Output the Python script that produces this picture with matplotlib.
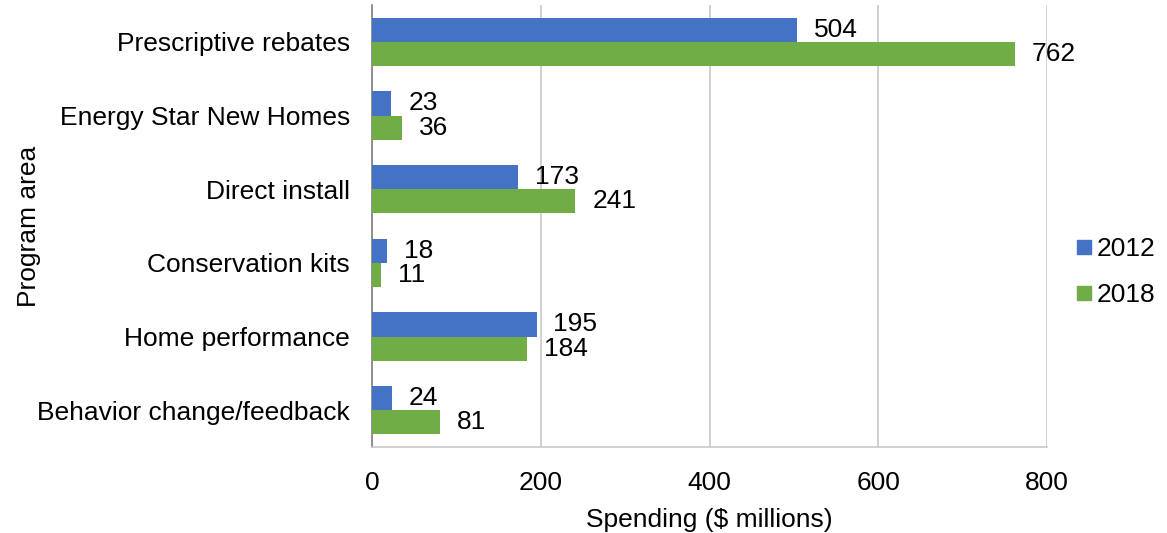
import matplotlib
matplotlib.use("Agg")
import matplotlib.pyplot as plt
import numpy as np
from matplotlib.lines import Line2D

categories = ["Prescriptive rebates", "Energy Star New Homes", "Direct install",
              "Conservation kits", "Home performance", "Behavior change/feedback"]
series_2012 = [504, 23, 173, 18, 195, 24]
series_2018 = [762, 36, 241, 11, 184, 81]
series_names = ["2012", "2018"]
xticks = [0, 200, 400, 600, 800]

plt.rcParams['font.family'] = ['Liberation Sans', 'DejaVu Sans']
FS = 19
blue = "#4472C4"
green = "#70AD47"

fig = plt.figure(figsize=(11.67, 5.33), dpi=100)
ax = fig.add_axes([372/1167, 1-447/533, (1047-372)/1167, (447-5)/533])

y = np.arange(len(categories))
h = 0.33
ax.barh(y - h/2, series_2012, height=h, color=blue, zorder=3)
ax.barh(y + h/2, series_2018, height=h, color=green, zorder=3)

for yi, v in zip(y, series_2012):
    ax.text(v + 20, yi - h/2, str(v), va='center', ha='left', fontsize=FS)
for yi, v in zip(y, series_2018):
    ax.text(v + 20, yi + h/2, str(v), va='center', ha='left', fontsize=FS)

ax.set_ylim(len(categories) - 0.5, -0.5)
ax.set_xlim(0, 800)
ax.set_yticks(y)
ax.set_yticklabels(categories, fontsize=FS)
ax.set_xticks(xticks)
ax.set_xticklabels([str(t) for t in xticks], fontsize=FS)
ax.tick_params(axis='both', length=0)
ax.tick_params(axis='x', pad=17)
ax.tick_params(axis='y', pad=16)
ax.grid(axis='x', color='#C8C8C8', linewidth=1.2, zorder=0)
for s in ['top', 'right']:
    ax.spines[s].set_visible(False)
ax.spines['left'].set_color('#808080')
ax.spines['left'].set_linewidth(1.2)
ax.spines['bottom'].set_color('#C8C8C8')
ax.spines['bottom'].set_linewidth(1.2)
ax.set_xlabel("Spending ($ millions)", fontsize=FS, labelpad=10)
ax.set_ylabel("Program area", fontsize=FS, labelpad=-3)

handles = [Line2D([], [], marker='s', linestyle='none', color=blue, markersize=10),
           Line2D([], [], marker='s', linestyle='none', color=green, markersize=10)]
fig.legend(handles, series_names, loc='center left', bbox_to_anchor=(1071/1167, 1-272/533),
           frameon=False, fontsize=FS, handletextpad=0.0, labelspacing=0.85, handlelength=0.98,
           borderpad=0, borderaxespad=0)

fig.savefig("out.png", dpi=100)
